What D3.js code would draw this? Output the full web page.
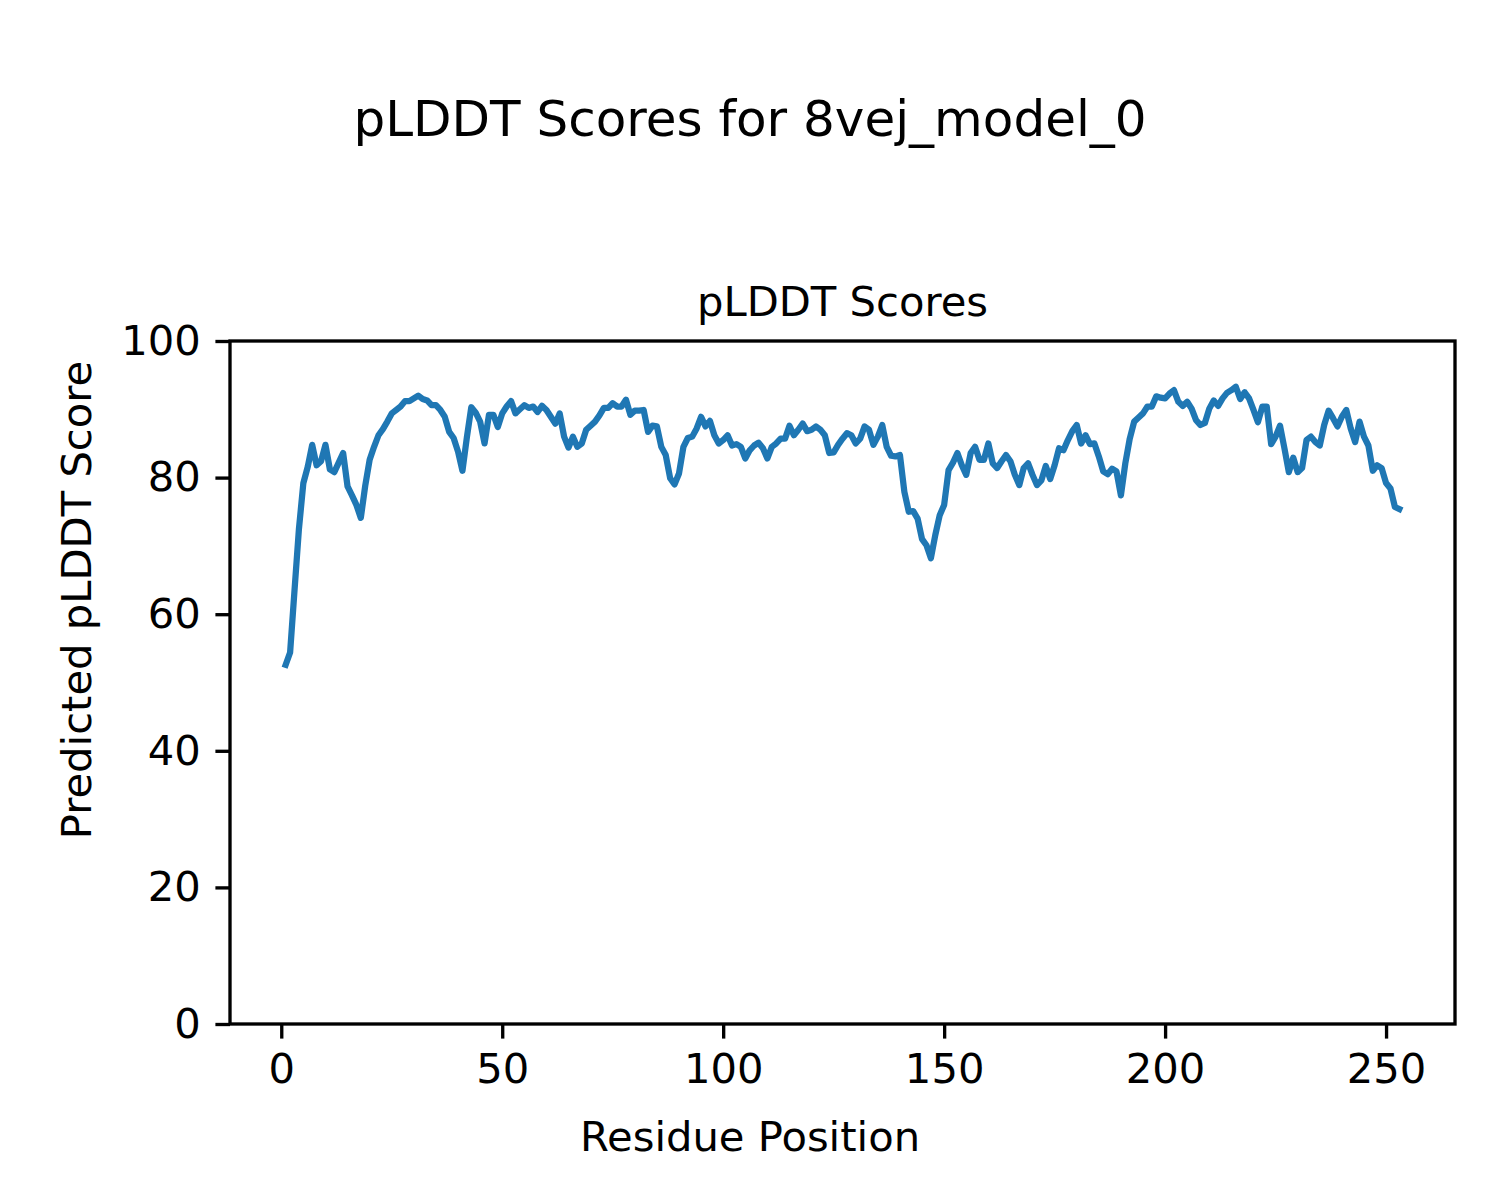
<!DOCTYPE html>
<html>
<head>
<meta charset="utf-8">
<script src="https://cdn.jsdelivr.net/npm/d3@7"></script>
<style>
body { margin: 0; background: #fff; }
text { font-family: "DejaVu Sans", sans-serif; fill: #000; }
</style>
</head>
<body>
<svg id="chart"></svg>
<script>
var chartTitle = "pLDDT Scores for 8vej_model_0";
var axesTitle = "pLDDT Scores";
var xLabel = "Residue Position";
var yLabel = "Predicted pLDDT Score";
var xTicks = [0, 50, 100, 150, 200, 250];
var yTicks = [0, 20, 40, 60, 80, 100];

// one value per residue, starting at residue 1
var plddt = [
	52.6, 54.4, 63.5, 72.5, 79.2, 81.6, 84.8, 81.8, 82.4, 84.8,
	81.2, 80.8, 82.2, 83.6, 78.7, 77.4, 76.0, 74.1, 78.8, 82.6,
	84.5, 86.2, 87.1, 88.2, 89.4, 89.9, 90.4, 91.2, 91.2, 91.6,
	92.0, 91.5, 91.3, 90.6, 90.6, 89.9, 88.9, 86.7, 85.8, 83.8,
	81.0, 85.9, 90.3, 89.5, 88.2, 85.0, 89.2, 89.2, 87.4, 89.4,
	90.4, 91.2, 89.4, 90.0, 90.6, 90.2, 90.4, 89.6, 90.5, 89.9,
	88.9, 87.9, 89.4, 86.0, 84.4, 86.0, 84.5, 85.0, 87.0, 87.6,
	88.2, 89.1, 90.2, 90.2, 90.9, 90.4, 90.4, 91.4, 89.2, 89.8,
	89.8, 89.9, 86.7, 87.6, 87.5, 84.5, 83.3, 79.9, 79.0, 80.6,
	84.5, 85.8, 86.0, 87.2, 88.9, 87.5, 88.3, 86.2, 85.0, 85.5,
	86.2, 84.7, 84.9, 84.5, 82.8, 84.0, 84.7, 85.1, 84.3, 82.8,
	84.5, 85.0, 85.7, 85.7, 87.6, 86.2, 87.0, 87.9, 86.8, 87.0,
	87.5, 87.0, 86.2, 83.6, 83.7, 84.8, 85.7, 86.5, 86.2, 85.0,
	85.7, 87.5, 87.0, 84.8, 86.0, 87.7, 84.5, 83.2, 83.1, 83.3,
	77.9, 75.0, 75.1, 74.0, 71.0, 70.1, 68.2, 71.6, 74.5, 76.0,
	81.1, 82.2, 83.6, 81.8, 80.4, 83.6, 84.5, 82.6, 82.6, 85.0,
	82.1, 81.4, 82.4, 83.3, 82.4, 80.4, 78.9, 81.4, 82.1, 80.4,
	78.9, 79.6, 81.7, 79.8, 81.8, 84.3, 84.0, 85.5, 86.8, 87.7,
	85.0, 86.2, 84.9, 85.0, 83.1, 80.9, 80.5, 81.3, 80.9, 77.4,
	82.1, 85.7, 88.2, 88.8, 89.4, 90.4, 90.4, 91.9, 91.7, 91.6,
	92.3, 92.8, 91.1, 90.5, 91.1, 90.1, 88.4, 87.7, 88.0, 90.1,
	91.3, 90.5, 91.6, 92.4, 92.8, 93.3, 91.5, 92.5, 91.6, 89.9,
	88.1, 90.4, 90.4, 84.9, 86.0, 87.6, 84.3, 80.8, 82.9, 80.8,
	81.4, 85.5, 86.0, 85.2, 84.7, 87.7, 89.8, 88.7, 87.5, 88.9,
	89.9, 87.2, 85.2, 88.2, 86.0, 84.7, 81.0, 81.8, 81.4, 79.2,
	78.4, 75.7, 75.4
];

$ready();

function $ready() {
	var width = 1500, height = 1200;
	var left = 230, right = 1455, top = 341, bottom = 1024;
	var tickLen = 14.6, tickPad = 14.6;

	var svg = d3.select("#chart").attr("width", width).attr("height", height);

	var first = 1, last = plddt.length;
	var margin = (last - first) * 0.05;
	var x = d3.scaleLinear().domain([first - margin, last + margin]).range([left, right]);
	var y = d3.scaleLinear().domain([0, 100]).range([bottom, top]);

	var line = d3.line()
		.x(function(d, i) { return x(i + 1); })
		.y(function(d) { return y(d); });

	svg.append("path")
		.datum(plddt)
		.attr("d", line)
		.attr("fill", "none")
		.attr("stroke", "#1f77b4")
		.attr("stroke-width", 6.25)
		.attr("stroke-linejoin", "round")
		.attr("stroke-linecap", "square");

	var xAxis = svg.append("g").attr("transform", "translate(0," + bottom + ")")
		.call(d3.axisBottom(x).tickValues(xTicks).tickSize(tickLen).tickPadding(tickPad).tickSizeOuter(0));
	var yAxis = svg.append("g").attr("transform", "translate(" + left + ",0)")
		.call(d3.axisLeft(y).tickValues(yTicks).tickSize(tickLen).tickPadding(tickPad).tickSizeOuter(0));

	[xAxis, yAxis].forEach(function(a) {
		a.select(".domain").remove();
		a.selectAll(".tick line").attr("stroke", "#000").attr("stroke-width", 3.33);
		a.selectAll(".tick text").attr("font-size", 41.7).attr("font-family", "DejaVu Sans").attr("fill", "#000");
	});

	// frame
	svg.append("rect")
		.attr("x", left).attr("y", top)
		.attr("width", right - left).attr("height", bottom - top)
		.attr("fill", "none").attr("stroke", "#000").attr("stroke-width", 3.33);

	svg.append("text").attr("x", 750).attr("y", 136).attr("text-anchor", "middle")
		.attr("font-size", 50).text(chartTitle);
	svg.append("text").attr("x", (left + right) / 2).attr("y", 316).attr("text-anchor", "middle")
		.attr("font-size", 41.7).text(axesTitle);
	// the axis labels sit at the figure centre, not the axes centre
	svg.append("text").attr("x", width / 2).attr("y", 1151).attr("text-anchor", "middle")
		.attr("font-size", 41.7).text(xLabel);
	svg.append("text").attr("transform", "translate(91," + height / 2 + ") rotate(-90)")
		.attr("text-anchor", "middle").attr("font-size", 41.7).text(yLabel);
}
</script>
</body>
</html>
